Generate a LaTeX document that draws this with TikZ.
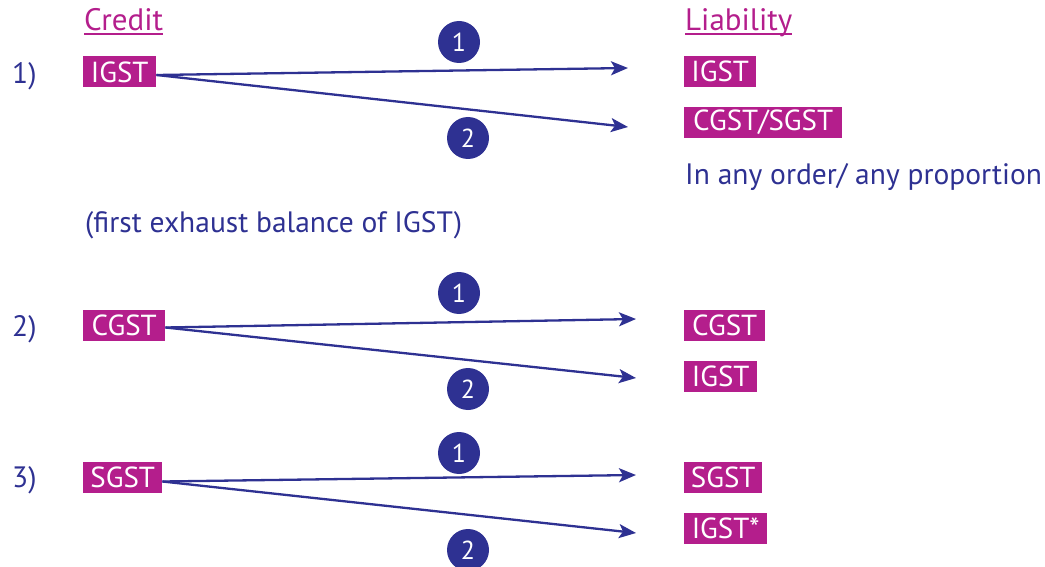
\documentclass[tikz,border=0pt]{standalone}
\usepackage{fontspec}
\setmainfont{PT Sans}
\usetikzlibrary{arrows.meta}
\definecolor{mag}{RGB}{180,30,140}
\definecolor{navy}{RGB}{46,49,146}
\begin{document}
\begin{tikzpicture}[x=1pt,y=-1pt,
  txt/.style={inner sep=0pt,text=navy,font=\fontsize{29.5}{32}\selectfont},
  head/.style={inner sep=0pt,text=mag,font=\fontsize{31}{34}\selectfont},
  tag/.style={fill=mag,text=white,inner sep=0pt,minimum height=31pt,font=\fontsize{29}{32}\selectfont},
  num/.style={circle,fill=navy,text=white,minimum size=42pt,inner sep=0pt,font=\fontsize{26}{28}\selectfont},
  conn/.style={draw=navy,line width=2.3pt,-{Stealth[length=17pt,width=14pt,inset=4pt]}}]
\useasboundingbox (0,0) rectangle (1045,567);
\clip (0,0) rectangle (1045,567);
% headings
\node[head,anchor=base west] (credit) at (84,31) {Credit};
\draw[mag,line width=1.6pt] ([yshift=-3pt]credit.base west) -- ([yshift=-3pt]credit.base east);
\node[head,anchor=base west] (liab) at (685,31) {Liability};
\draw[mag,line width=1.6pt] ([yshift=-3pt]liab.base west) -- ([yshift=-3pt]liab.base east);
% row labels
\node[txt,anchor=base west] (r1) at (12,84) {1)};
\node[txt,anchor=base west] (r2) at (12,336) {2)};
\node[txt,anchor=base west] (r3) at (12,487) {3)};
% left boxes
\node[tag,anchor=west,minimum width=73pt] (l1) at (83,72) {IGST};
\node[tag,anchor=west,minimum width=82pt] (l2) at (83,325.5) {CGST};
\node[tag,anchor=west,minimum width=79pt] (l3) at (83,477.5) {SGST};
% right boxes
\node[tag,anchor=west,minimum width=72pt] (a1) at (684,71.5) {IGST};
\node[tag,anchor=west,minimum width=158pt] (b1) at (684,122.5) {CGST/SGST};
\node[tag,anchor=west,minimum width=81pt] (a2) at (684,325.5) {CGST};
\node[tag,anchor=west,minimum width=73pt] (b2) at (684,376) {IGST};
\node[tag,anchor=west,minimum width=78pt] (a3) at (684,477.5) {SGST};
\node[tag,anchor=west,minimum width=83pt] (b3) at (684,528.5) {IGST*};
% notes
\node[txt,anchor=base west] (note1) at (685,185) {In any order/ any proportion};
\node[txt,anchor=base west] (note2) at (85,233) {(first exhaust balance of IGST)};
% arrow tips
\coordinate (t1a) at (628,68);
\coordinate (t1b) at (628,127);
\coordinate (t2a) at (636,319);
\coordinate (t2b) at (636,378);
\coordinate (t3a) at (636,475);
\coordinate (t3b) at (636,533);
\draw[conn] ([yshift=-3pt]l1.east) -- (t1a);
\draw[conn] ([yshift=-3pt]l1.east) -- (t1b);
\draw[conn] ([yshift=-2pt]l2.east) -- (t2a);
\draw[conn] ([yshift=-2pt]l2.east) -- (t2b);
\draw[conn] ([yshift=-4pt]l3.east) -- (t3a);
\draw[conn] ([yshift=-4pt]l3.east) -- (t3b);
% circles
\node[num] (c1a) at (459,42) {1};
\node[num] (c1b) at (468,138) {2};
\node[num] (c2a) at (459,293) {1};
\node[num] (c2b) at (468,389) {2};
\node[num] (c3a) at (459,453) {1};
\node[num] (c3b) at (468,550) {2};
\end{tikzpicture}
\end{document}
